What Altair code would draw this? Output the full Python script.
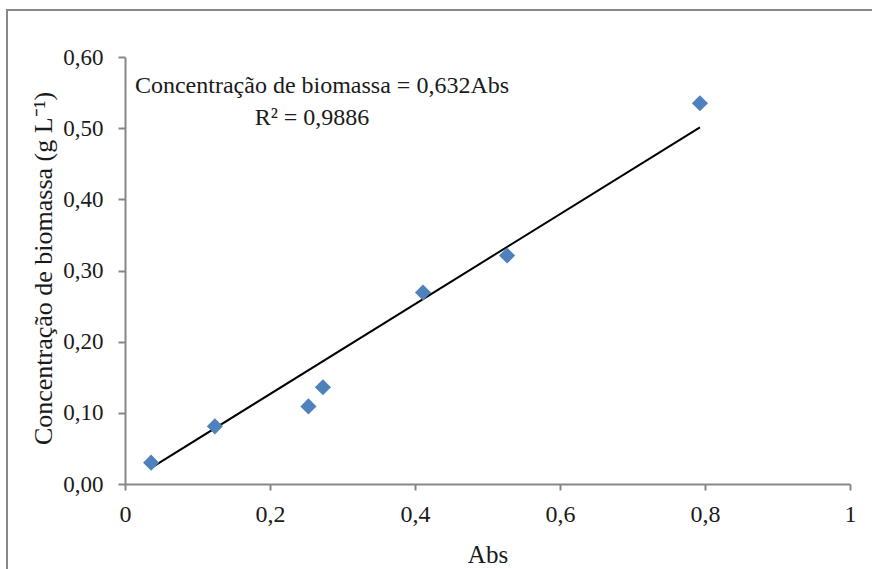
import altair as alt
import pandas as pd

# Calibration points: absorbance vs. biomass concentration
abs_values = [0.036, 0.124, 0.253, 0.273, 0.411, 0.527, 0.793]
biomass = [0.030, 0.081, 0.109, 0.136, 0.269, 0.321, 0.535]

# Linear fit through the origin
slope = 0.632
r_squared = 0.9886

x_ticks = [0, 0.2, 0.4, 0.6, 0.8, 1]
y_ticks = [0, 0.1, 0.2, 0.3, 0.4, 0.5, 0.6]

points = pd.DataFrame({"Abs": abs_values, "Biomassa": biomass})
fit = pd.DataFrame({"Abs": [min(abs_values), max(abs_values)]})

FONT = "Liberation Serif"
AXIS_GREY = "#878787"
TEXT = "#1a1a1a"

x_enc = alt.X(
    "Abs:Q",
    scale=alt.Scale(domain=[0, 1], nice=False, zero=False),
    axis=alt.Axis(
        title="Abs",
        values=x_ticks,
        labelExpr="replace(format(datum.value, '~g'), '.', ',')",
        labelFlush=False,
        grid=False,
        domainColor=AXIS_GREY,
        domainWidth=2,
        tickColor=AXIS_GREY,
        tickWidth=2,
        tickSize=6,
        labelFont=FONT,
        labelFontSize=24,
        labelColor=TEXT,
        labelPadding=12,
        titleFont=FONT,
        titleFontSize=25,
        titleFontWeight="normal",
        titleColor=TEXT,
        titleBaseline="alphabetic",
        titleY=78,
    ),
)

y_enc = alt.Y(
    "Biomassa:Q",
    scale=alt.Scale(domain=[0, 0.6], nice=False),
    axis=alt.Axis(
        title="Concentração de biomassa (g L⁻¹)",
        values=y_ticks,
        labelExpr="replace(format(datum.value, '.2f'), '.', ',')",
        labelFlush=False,
        grid=False,
        domainColor=AXIS_GREY,
        domainWidth=2,
        tickColor=AXIS_GREY,
        tickWidth=2,
        tickSize=7,
        labelFont=FONT,
        labelFontSize=23,
        labelColor=TEXT,
        labelPadding=15,
        titleFont=FONT,
        titleFontSize=26,
        titleFontWeight="normal",
        titleColor=TEXT,
        titleAngle=-90,
        titleAlign="center",
        titleBaseline="alphabetic",
        titleX=-74,
        titleY=211,
    ),
)

markers = alt.Chart(points).mark_point(
    shape="diamond", filled=True, size=260, color="#4F81BD", opacity=1
).encode(x=x_enc, y=y_enc)

trend = (
    alt.Chart(fit)
    .transform_calculate(Biomassa=f"{slope} * datum.Abs")
    .mark_line(color="#000000", strokeWidth=2)
    .encode(x="Abs:Q", y="Biomassa:Q")
)

eq_text = f"Concentração de biomassa = {str(slope).replace('.', ',')}Abs"
r2_text = f"R² = {str(r_squared).replace('.', ',')}"

text_style = dict(font=FONT, fontSize=24, color=TEXT, align="center", baseline="alphabetic")

equation = alt.Chart(pd.DataFrame({"t": [eq_text]})).mark_text(**text_style).encode(
    x=alt.value(197), y=alt.value(36), text="t:N"
)
r2_label = alt.Chart(pd.DataFrame({"t": [r2_text]})).mark_text(**text_style).encode(
    x=alt.value(187), y=alt.value(68), text="t:N"
)

frame = alt.Chart(pd.DataFrame({"f": [0]})).mark_rect(
    fill=None, stroke="#888888", strokeWidth=2
).encode(
    x=alt.value(-118), x2=alt.value(760), y=alt.value(-47), y2=alt.value(530)
)

chart = (
    alt.layer(frame, trend, markers, equation, r2_label)
    .properties(
        width=725,
        height=427,
        padding={"left": 125, "top": 57, "right": 22, "bottom": 85},
        autosize=alt.AutoSizeParams(type="none"),
        background="white",
    )
    .configure_view(stroke=None)
)

chart.save("out.html", embed_options={"renderer": "svg", "actions": False})
